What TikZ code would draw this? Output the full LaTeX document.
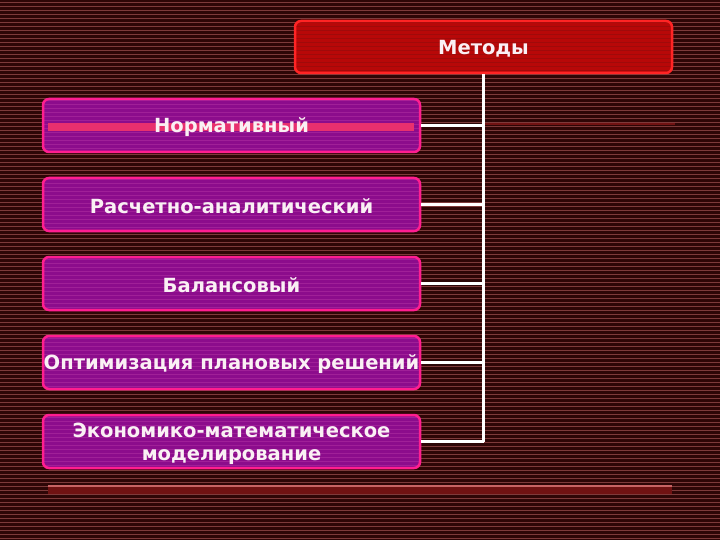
\documentclass[tikz,border=0pt]{standalone}
\usepackage{fontspec}
\setmainfont{DejaVu Sans}
\definecolor{bgbase}{HTML}{2E0606}
\definecolor{bgline}{HTML}{7E3A3A}
\definecolor{topfill}{HTML}{B80808}
\definecolor{topedge}{HTML}{FF2424}
\definecolor{topstripe}{HTML}{A00A0A}
\definecolor{boxfill}{HTML}{8C0C8C}
\definecolor{boxstripe}{HTML}{A02098}
\definecolor{boxedge}{HTML}{FF1E90}
\definecolor{barpink}{HTML}{E8306E}
\definecolor{txt}{HTML}{FAF0F4}
\definecolor{redrule}{HTML}{701212}
\definecolor{pinkrule}{HTML}{C86464}
\tikzset{
  labfont/.style={font=\bfseries\fontsize{19.5}{23}\selectfont},
  labtext/.style={labfont, text=txt, align=center, inner sep=0pt},
  stripes/.style={path picture={
      \foreach \k in {0,...,13} {
        \draw[#1, line width=1pt]
          ([yshift=-\k*4pt-2pt]path picture bounding box.north west) --
          ([yshift=-\k*4pt-2pt]path picture bounding box.north east);
      }}},
  methbox/.style={draw=topedge, fill=topfill, line width=2.5pt, rounded corners=6pt,
    minimum width=377pt, minimum height=52pt, inner sep=0pt, stripes=topstripe},
  kindbox/.style={draw=boxedge, fill=boxfill, line width=2.5pt, rounded corners=6pt,
    minimum width=377pt, minimum height=53pt, inner sep=0pt, stripes=boxstripe},
  wire/.style={draw=white, line width=3pt}
}
\begin{document}
\begin{tikzpicture}[x=1pt,y=-1pt]
\useasboundingbox (0,0) rectangle (720,540);
\fill[bgbase] (0,0) rectangle (720,540);
\foreach \k in {0,...,134} {
  \draw[bgline, line width=0.9pt] (0,{2+4*\k}) -- (720,{2+4*\k});
}
% decorative rules
\fill[redrule] (48,486) rectangle (672,494);
\draw[pinkrule, line width=1.5pt] (48,486) -- (672,486);
\draw[redrule, line width=2pt] (483,124) -- (675,124);
% boxes
\node[methbox] (m) at (483.5,47) {};
\node[kindbox] (b1) at (231.5,125.5) {};
\fill[barpink] (48,123.5) rectangle (414,131);
\node[kindbox] (b2) at (231.5,204.5) {};
\node[kindbox] (b3) at (231.5,283.5) {};
\node[kindbox] (b4) at (231.5,362.5) {};
\node[kindbox] (b5) at (231.5,441.5) {};
% texts
\node[labtext] (t0) at ([yshift=-1.5pt]m.center) {Методы};
\node[labtext] (t1) at ([yshift=-2pt]b1.center) {Нормативный};
\node[labtext] (t2) at ([yshift=-2pt]b2.center) {Расчетно-аналитический};
\node[labtext] (t3) at ([yshift=-2pt]b3.center) {Балансовый};
\node[labtext] (t4) at ([yshift=-2pt]b4.center) {Оптимизация плановых решений};
\node[labtext] (t5) at ([yshift=-2.5pt]b5.center) {Экономико-математическое\\моделирование};
% connectors
\coordinate (j5) at (m.south |- b5.east);
\draw[wire] (m.south) -- (j5);
\foreach \i in {1,...,5} {
  \draw[wire] (b\i.east) -- (b\i.east -| m.south);
}
\end{tikzpicture}
\end{document}
